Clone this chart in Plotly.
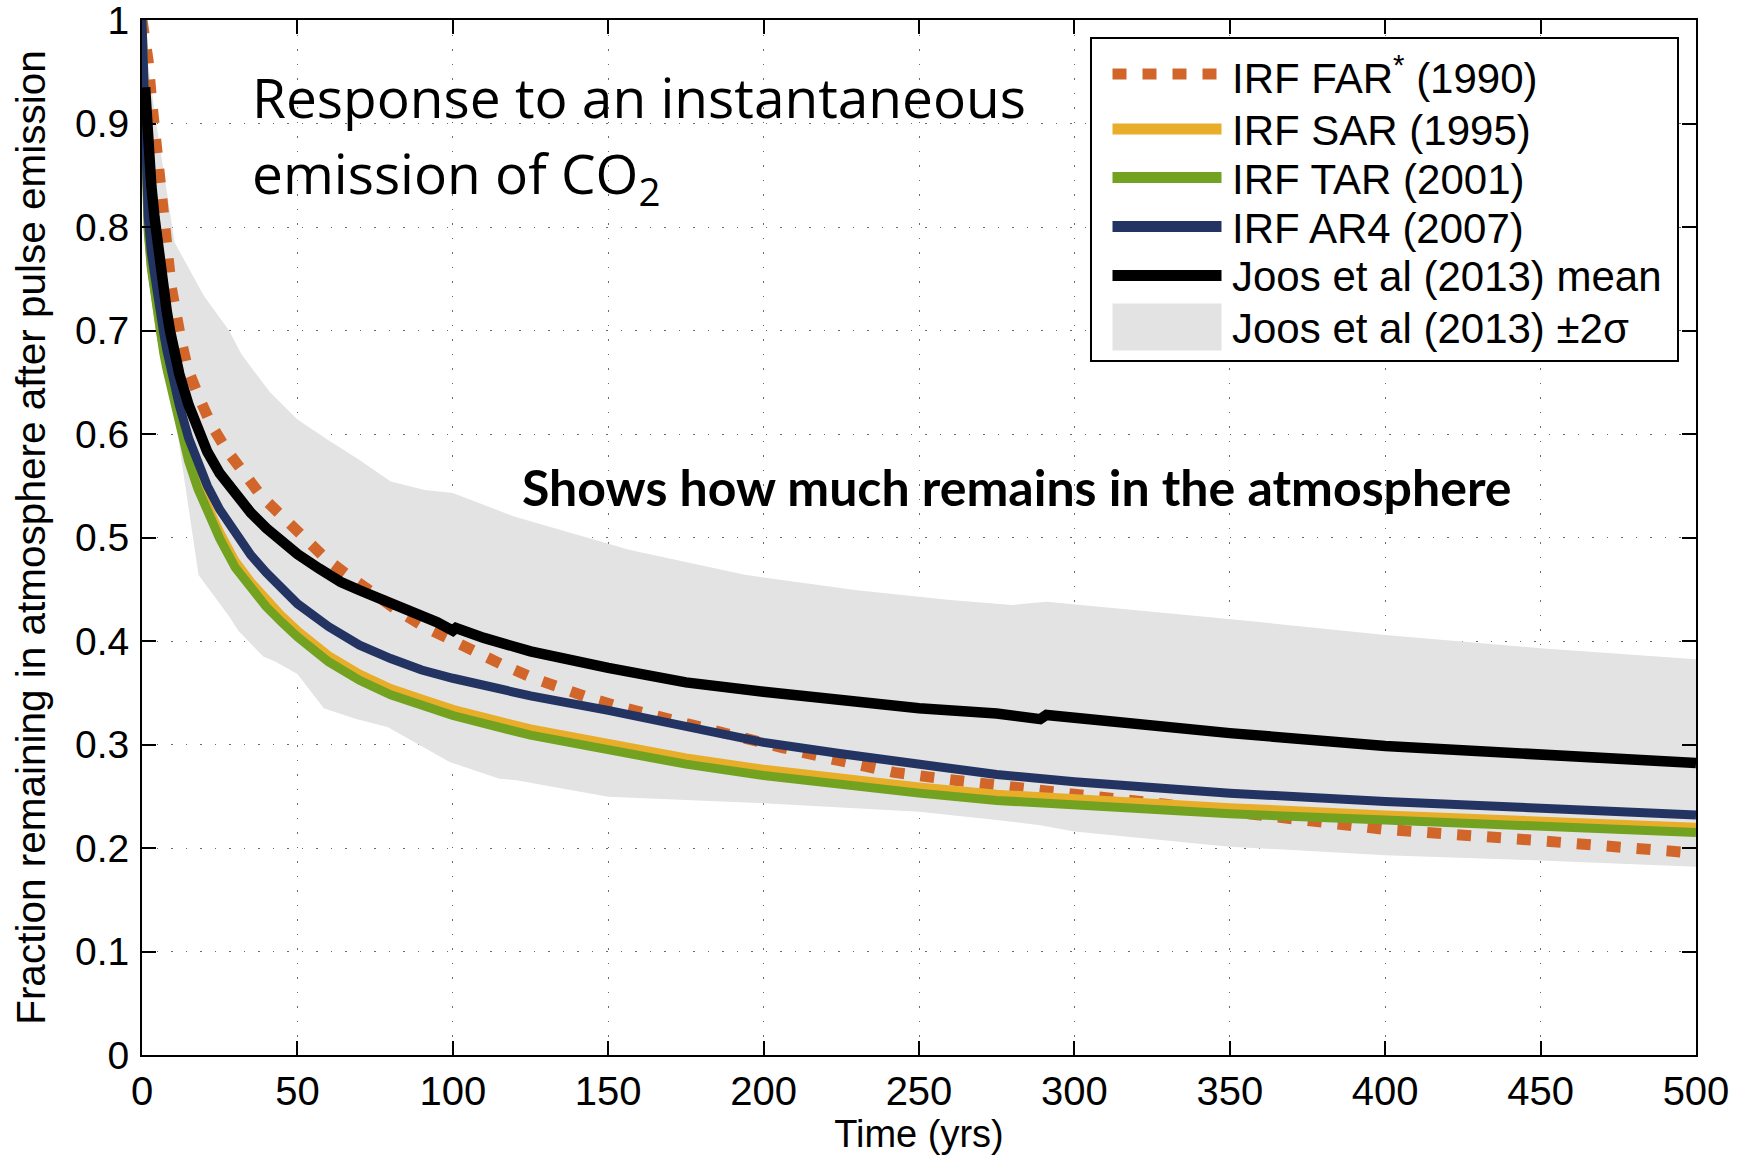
import plotly.graph_objects as go

# ---------------- data ----------------
t_irf = [0, 0.5, 1, 1.5, 2, 3, 4, 5, 6, 7, 8, 10, 12, 15, 18, 21, 25, 30, 35, 40, 45, 50,
         60, 70, 80, 90, 100, 125, 150, 175, 200, 225, 250, 275, 300, 350, 400, 450, 500]

irf_ar4 = [1.0, 0.935, 0.875, 0.836, 0.81, 0.775, 0.752, 0.731, 0.713, 0.697, 0.681, 0.653,
           0.628, 0.596, 0.57, 0.55, 0.527, 0.503, 0.483, 0.466, 0.451, 0.436, 0.414, 0.396,
           0.383, 0.372, 0.364, 0.347, 0.333, 0.317, 0.302, 0.291, 0.281, 0.271, 0.264,
           0.253, 0.245, 0.238, 0.232]

irf_tar = [1.0, 0.92, 0.86, 0.82, 0.795, 0.76, 0.735, 0.713, 0.695, 0.678, 0.663, 0.635,
           0.61, 0.574, 0.547, 0.525, 0.499, 0.471, 0.451, 0.433, 0.418, 0.404, 0.38, 0.362,
           0.348, 0.338, 0.328, 0.309, 0.294, 0.281, 0.27, 0.261, 0.253, 0.246, 0.241,
           0.233, 0.227, 0.221, 0.215]

irf_sar = [1.0, 0.922, 0.862, 0.823, 0.798, 0.763, 0.738, 0.716, 0.698, 0.682, 0.667, 0.64,
           0.616, 0.579, 0.553, 0.531, 0.505, 0.477, 0.457, 0.439, 0.424, 0.41, 0.386, 0.368,
           0.354, 0.344, 0.334, 0.315, 0.3, 0.287, 0.276, 0.267, 0.259, 0.252, 0.247,
           0.239, 0.232, 0.226, 0.22]

t_far = [0, 1, 2, 3, 3.5, 4.6, 5.7, 6.8, 9.4, 12.6, 14.8, 18.4, 22.3, 27.1, 32.7, 38.4, 45.6,
         52, 59, 66.5, 73.8, 82, 90.6, 99.2, 108, 116, 126, 135, 144, 153, 172, 190, 206,
         222, 242, 260, 270, 300, 330, 368, 400, 450, 500]
irf_far = [1.0, 0.985, 0.96, 0.925, 0.91, 0.86, 0.826, 0.8, 0.742, 0.69, 0.662, 0.635, 0.609,
           0.585, 0.561, 0.54, 0.519, 0.499, 0.48, 0.463, 0.446, 0.43, 0.414, 0.401, 0.389,
           0.377, 0.364, 0.354, 0.345, 0.337, 0.322, 0.309, 0.297, 0.286, 0.273, 0.266,
           0.262, 0.252, 0.242, 0.228, 0.218, 0.207, 0.195]

t_joos = [1, 1.5, 2, 3, 4, 5, 6, 7, 8, 9, 10, 12, 15, 18, 21, 25, 30, 35, 40, 45, 50, 57, 64,
          70, 75, 80, 88, 95, 100, 101, 110, 125, 150, 175, 200, 230, 250, 275, 289, 291,
          300, 350, 400, 450, 500]
joos_mean = [0.935, 0.905, 0.878, 0.84, 0.81, 0.783, 0.76, 0.738, 0.718, 0.70, 0.685, 0.658,
             0.628, 0.603, 0.583, 0.562, 0.541, 0.524, 0.509, 0.496, 0.484, 0.47, 0.457,
             0.449, 0.443, 0.436, 0.427, 0.418, 0.41, 0.4125, 0.403, 0.39, 0.374, 0.36, 0.351,
             0.341, 0.335, 0.33, 0.3245, 0.3285, 0.3255, 0.311, 0.2986, 0.29, 0.282]

t_band_up = [0, 4.6, 10.5, 20, 28, 32, 41, 50, 60, 70, 80, 91, 100, 120, 157, 194, 230, 260,
             280, 291, 353, 400, 450, 500]
band_up = [1.0, 0.9, 0.785, 0.733, 0.70, 0.677, 0.641, 0.614, 0.594, 0.575, 0.554, 0.546,
           0.543, 0.52, 0.488, 0.464, 0.449, 0.4396, 0.4348, 0.438, 0.4203, 0.4058, 0.393,
           0.3823]

t_band_lo = [0, 1, 3, 5.4, 10.7, 18.2, 28, 31, 39, 43, 50, 58.5, 68.6, 79, 89, 99, 115, 120,
             150, 200, 250, 275, 289, 300, 350, 400, 450, 500]
band_lo = [1.0, 0.84, 0.74, 0.69, 0.615, 0.4638, 0.424, 0.41, 0.385, 0.38, 0.368, 0.335,
           0.325, 0.317, 0.30, 0.283, 0.267, 0.2657, 0.2496, 0.2432, 0.2351, 0.227, 0.222,
           0.216, 0.2013, 0.193, 0.188, 0.182]

x_ticks = [0, 50, 100, 150, 200, 250, 300, 350, 400, 450, 500]
y_ticks = [0, 0.1, 0.2, 0.3, 0.4, 0.5, 0.6, 0.7, 0.8, 0.9, 1]
y_ticktext = ["0", "0.1", "0.2", "0.3", "0.4", "0.5", "0.6", "0.7", "0.8", "0.9", "1"]

legend_labels = ["IRF FAR<sup>*</sup> (1990)", "IRF SAR (1995)", "IRF TAR (2001)",
                 "IRF AR4 (2007)", "Joos et al (2013) mean", "Joos et al (2013) \u00b12\u03c3"]

# ---------------- styles ----------------
C_FAR = "#d2662a"
C_SAR = "#e8ae2a"
C_TAR = "#72a220"
C_AR4 = "#233463"
C_JOOS = "#000000"
C_BAND = "#e3e3e3"
FONT = "Liberation Sans, Arial, sans-serif"

fig = go.Figure()

# band (+-2 sigma)
fig.add_trace(go.Scatter(
    x=t_band_up + t_band_lo[::-1], y=band_up + band_lo[::-1],
    mode="lines", fill="toself", fillcolor=C_BAND, line=dict(width=0),
    name=legend_labels[5], hoverinfo="skip"))

fig.add_trace(go.Scatter(x=t_far, y=irf_far, mode="lines", name=legend_labels[0],
                         line=dict(color=C_FAR, width=11, dash="14px,16px")))
fig.add_trace(go.Scatter(x=t_irf, y=irf_sar, mode="lines", name=legend_labels[1],
                         line=dict(color=C_SAR, width=9)))
fig.add_trace(go.Scatter(x=t_irf, y=irf_tar, mode="lines", name=legend_labels[2],
                         line=dict(color=C_TAR, width=9)))
fig.add_trace(go.Scatter(x=t_irf, y=irf_ar4, mode="lines", name=legend_labels[3],
                         line=dict(color=C_AR4, width=9)))
fig.add_trace(go.Scatter(x=t_joos, y=joos_mean, mode="lines", name=legend_labels[4],
                         line=dict(color=C_JOOS, width=10.5)))

axis_common = dict(
    showline=True, linecolor="black", linewidth=2, mirror="ticks",
    ticks="inside", ticklen=14, tickwidth=1.5, tickcolor="black",
    showgrid=True, gridcolor="#6a6a6a", gridwidth=1.4, griddash="1.5px,13px",
    zeroline=False, automargin=False, ticklabeloverflow="allow",
)

fig.update_xaxes(range=[0, 500], tickvals=x_ticks, ticklabelstandoff=0,
                 tickfont=dict(family=FONT, size=40, color="black"),
                 title=dict(text="Time (yrs)", font=dict(family=FONT, size=38, color="black"),
                            standoff=10),
                 **axis_common)
fig.update_yaxes(range=[0, 1], tickvals=y_ticks, ticktext=y_ticktext, ticklabelstandoff=3,
                 tickfont=dict(family=FONT, size=39, color="black"),
                 title=dict(text="Fraction remaining in atmosphere after pulse emission",
                            font=dict(family=FONT, size=40.5, color="black"), standoff=17),
                 **axis_common)

# ---------------- legend drawn as a boxed key ----------------
PLOT_L, PLOT_W, PLOT_B, PLOT_H = 142, 1554, 1055, 1035


def px(x):
    return (x - PLOT_L) / PLOT_W


def py(y):
    return (PLOT_B - y) / PLOT_H


shapes = [dict(type="rect", xref="paper", yref="paper", x0=px(1091), x1=px(1678),
               y0=py(361), y1=py(38), fillcolor="white", line=dict(color="black", width=2),
               layer="above")]
row_y = [74, 129, 177.5, 226.5, 275.5, 327]
sw_x0, sw_x1 = px(1112.5), px(1221.5)
line_styles = [(C_FAR, "14px,16px"), (C_SAR, "solid"), (C_TAR, "solid"),
               (C_AR4, "solid"), (C_JOOS, "solid")]
for (col, dsh), ry in zip(line_styles, row_y[:5]):
    shapes.append(dict(type="line", xref="paper", yref="paper", x0=sw_x0, x1=sw_x1,
                       y0=py(ry), y1=py(ry), layer="above",
                       line=dict(color=col, width=11, dash=dsh)))
shapes.append(dict(type="rect", xref="paper", yref="paper", x0=sw_x0, x1=sw_x1,
                   y0=py(row_y[5] + 23.5), y1=py(row_y[5] - 23.5), fillcolor=C_BAND,
                   line=dict(width=0), layer="above"))

annotations = []
for lab, ry in zip(legend_labels, row_y):
    annotations.append(dict(text=lab, xref="paper", yref="paper", x=px(1230), y=py(ry + 1.5),
                            xanchor="left", yanchor="middle", showarrow=False,
                            font=dict(family=FONT, size=42, color="black")))

TITLE_FONT = dict(family="Open Sans, sans-serif", size=55, color="black")
annotations.append(dict(text="Response to an instantaneous",
                        xref="paper", yref="paper", x=px(250), y=py(57), xanchor="left",
                        yanchor="top", align="left", showarrow=False, font=TITLE_FONT))
annotations.append(dict(text="emission of CO<sub>2</sub>",
                        xref="paper", yref="paper", x=px(250), y=py(133), xanchor="left",
                        yanchor="top", align="left", showarrow=False, font=TITLE_FONT))
annotations.append(dict(text="<b>Shows how much remains in the atmosphere</b>",
                        xref="paper", yref="paper", x=px(520), y=py(487), xanchor="left",
                        yanchor="middle", showarrow=False,
                        font=dict(family="Lato, sans-serif", size=50, color="black")))

fig.update_layout(
    width=1748, height=1155,
    margin=dict(l=142, r=52, t=20, b=100),
    plot_bgcolor="white", paper_bgcolor="white",
    showlegend=False,
    shapes=shapes, annotations=annotations,
    font=dict(family=FONT, color="black"),
)

fig.write_html("out.html")
